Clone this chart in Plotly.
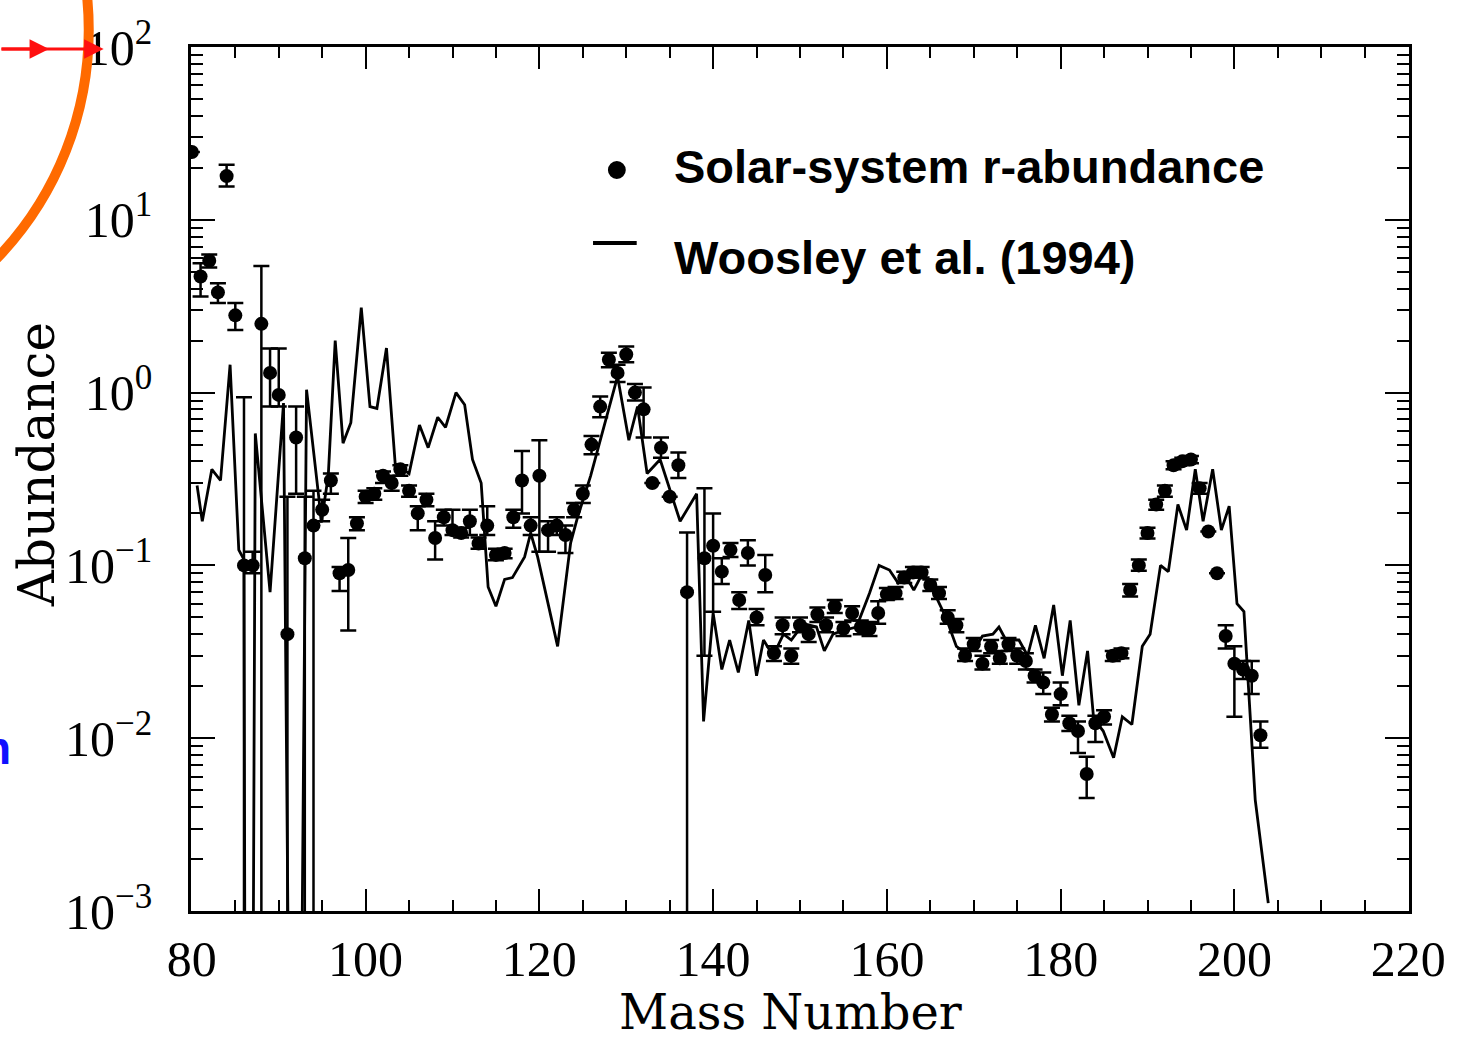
import plotly.graph_objects as go

# ---------------- data ----------------
# Solar-system r-process abundances (mass number, abundance, error-bar top, error-bar bottom)
sol_A = [80, 81, 82, 83, 84, 85, 86, 87, 88, 89, 90, 91, 92, 93, 94, 95, 96, 97, 98, 99,
         100, 101, 102, 103, 104, 105, 106, 107, 108, 109, 110, 111, 112, 113, 114, 115, 116, 117, 118, 119,
         120, 121, 122, 123, 124, 125, 126, 127, 128, 129, 130, 131, 132, 133, 134, 135, 136, 137, 139,
         140, 141, 142, 143, 144, 145, 146, 147, 148, 149, 150, 151, 152, 153, 154, 155, 156, 157, 158, 159,
         160, 161, 162, 163, 164, 165, 166, 167, 168, 169, 170, 171, 172, 173, 174, 175, 176, 177, 178, 179,
         180, 181, 182, 183, 184, 185, 186, 187, 188, 189, 190, 191, 192, 193, 194, 195, 196, 197, 198, 199,
         200, 201, 202, 203]
sol_v = [24.7, 4.7, 5.8, 3.8, 17.9, 2.8, 0.10, 0.10, 2.5, 1.3, 0.97, 0.04, 0.55, 0.11, 0.17, 0.21, 0.31, 0.09, 0.094, 0.175,
         0.25, 0.26, 0.33, 0.30, 0.36, 0.27, 0.20, 0.24, 0.144, 0.19, 0.16, 0.154, 0.18, 0.134, 0.17, 0.115, 0.118, 0.19, 0.31, 0.17,
         0.33, 0.16, 0.17, 0.15, 0.21, 0.26, 0.5, 0.83, 1.55, 1.3, 1.66, 1.0, 0.8, 0.3, 0.48, 0.25, 0.38, 0.07, 0.11,
         0.13, 0.092, 0.123, 0.063, 0.118, 0.05, 0.088, 0.031, 0.045, 0.030, 0.045, 0.04, 0.052, 0.045, 0.058, 0.043, 0.053, 0.044, 0.043, 0.053,
         0.068, 0.069, 0.085, 0.091, 0.091, 0.077, 0.069, 0.05, 0.045, 0.03, 0.035, 0.027, 0.034, 0.029, 0.035, 0.03, 0.028, 0.023, 0.021, 0.0137,
         0.018, 0.0122, 0.011, 0.0062, 0.0122, 0.0133, 0.030, 0.031, 0.072, 0.1, 0.154, 0.225, 0.27, 0.38, 0.40, 0.41, 0.28, 0.157, 0.09, 0.039,
         0.027, 0.025, 0.023, 0.0104]
sol_hi = [24.7, 5.6, 6.3, 4.3, 20.8, 3.3, 0.94, 0.12, 5.4, 1.8, 1.8, 0.25, 0.83, 0.25, 0.27, 0.24, 0.34, 0.098, 0.144, 0.19,
          0.27, 0.28, 0.35, 0.33, 0.38, 0.29, 0.22, 0.26, 0.18, 0.21, 0.21, 0.165, 0.21, 0.145, 0.22, 0.125, 0.125, 0.21, 0.46, 0.19,
          0.53, 0.18, 0.19, 0.17, 0.23, 0.29, 0.56, 0.95, 1.7, 1.45, 1.85, 1.12, 1.07, 0.3, 0.55, 0.25, 0.45, 0.155, 0.28,
          0.2, 0.11, 0.135, 0.07, 0.14, 0.056, 0.115, 0.034, 0.05, 0.033, 0.05, 0.044, 0.057, 0.05, 0.063, 0.047, 0.058, 0.048, 0.047, 0.062,
          0.074, 0.075, 0.092, 0.098, 0.098, 0.083, 0.075, 0.055, 0.049, 0.033, 0.038, 0.03, 0.037, 0.032, 0.038, 0.033, 0.031, 0.025, 0.024, 0.015,
          0.021, 0.0135, 0.0125, 0.0078, 0.0135, 0.0145, 0.032, 0.033, 0.078, 0.108, 0.165, 0.24, 0.29, 0.4, 0.42, 0.43, 0.3, 0.157, 0.09, 0.045,
          0.034, 0.028, 0.028, 0.0125]
sol_lo = [24.7, 3.6, 5.3, 3.3, 15.6, 2.3, 1e-4, 0.09, 1e-4, 0.83, 0.83, 1e-4, 0.26, 1e-4, 1e-4, 0.18, 0.26, 0.071, 0.042, 0.16,
          0.23, 0.24, 0.3, 0.27, 0.33, 0.25, 0.16, 0.22, 0.108, 0.17, 0.15, 0.145, 0.15, 0.125, 0.15, 0.107, 0.11, 0.165, 0.2, 0.15,
          0.12, 0.12, 0.15, 0.118, 0.19, 0.23, 0.44, 0.72, 1.4, 1.15, 1.5, 0.9, 0.55, 0.3, 0.42, 0.25, 0.32, 1e-4, 0.03,
          0.054, 0.078, 0.112, 0.056, 0.1, 0.045, 0.07, 0.028, 0.04, 0.027, 0.041, 0.036, 0.047, 0.041, 0.053, 0.039, 0.048, 0.04, 0.039, 0.046,
          0.063, 0.064, 0.079, 0.085, 0.085, 0.071, 0.064, 0.046, 0.041, 0.028, 0.032, 0.025, 0.031, 0.027, 0.032, 0.027, 0.025, 0.021, 0.018, 0.0125,
          0.0155, 0.011, 0.0082, 0.0045, 0.0095, 0.012, 0.028, 0.029, 0.066, 0.093, 0.143, 0.21, 0.25, 0.36, 0.38, 0.39, 0.26, 0.157, 0.09, 0.033,
          0.0133, 0.022, 0.018, 0.0088]

# Woosley et al. (1994) model curve
model_A = [80.6, 81.2, 82.3, 83.3, 84.4, 85.4, 86.0, 86.3, 86.7, 87.3, 89.0, 90.55, 91.9, 93.2, 94.6, 94.9, 95.7, 96.5, 97.4, 98.3,
           99.5, 100.5, 101.3, 102.4, 103.4, 105.0, 106.2, 107.2, 108.3, 109.2, 110.4, 111.4, 112.3, 113.3, 114.1, 115.0, 116.0, 116.9, 118.3, 119.0,
           119.8, 122.1, 123.6, 124.4, 125.9, 127.4, 129.0, 130.3, 131.3, 132.4, 133.9, 136.2, 138.1, 138.9, 140.0, 141.0, 141.9, 142.9, 144.1, 145.0,
           145.8, 146.9, 148.1, 149.0, 150.4, 151.9, 152.8, 153.8, 154.9, 156.5, 158.0, 159.1, 160.3, 161.3, 162.2, 163.1, 164.1, 165.3, 166.8, 168.0,
           169.1, 170.3, 171.0, 172.2, 172.9, 173.7, 175.2, 176.2, 177.1, 178.1, 179.2, 180.2, 181.1, 182.1, 183.1, 183.8, 184.9, 186.1, 187.1, 188.2,
           189.4, 190.3, 191.5, 192.4, 193.5, 194.5, 195.5, 196.4, 197.5, 198.5, 199.4, 200.3, 201.1, 202.4, 203.9]
model_v = [0.29, 0.18, 0.36, 0.31, 1.45, 0.123, 0.108, 1e-8, 1e-8, 0.58, 0.07, 0.87, 1e-8, 1.04, 0.25, 0.177, 0.33, 2.0, 0.51, 0.67,
           3.1, 0.83, 0.81, 1.81, 0.39, 0.34, 0.65, 0.48, 0.72, 0.63, 1.0, 0.85, 0.41, 0.3, 0.075, 0.058, 0.083, 0.085, 0.112, 0.154,
           0.112, 0.034, 0.135, 0.19, 0.33, 0.63, 1.24, 0.53, 0.83, 0.34, 0.41, 0.18, 0.26, 0.0125, 0.053, 0.025, 0.037, 0.024, 0.048, 0.023,
           0.037, 0.03, 0.04, 0.037, 0.046, 0.044, 0.032, 0.04, 0.042, 0.044, 0.069, 0.1, 0.094, 0.079, 0.086, 0.072, 0.09, 0.072, 0.05, 0.034,
           0.031, 0.034, 0.039, 0.04, 0.044, 0.037, 0.037, 0.03, 0.045, 0.029, 0.059, 0.023, 0.048, 0.0155, 0.032, 0.013, 0.011, 0.0077, 0.0133, 0.012,
           0.034, 0.04, 0.1, 0.092, 0.225, 0.16, 0.36, 0.18, 0.36, 0.16, 0.22, 0.06, 0.054, 0.0044, 0.00111]

x_ticks = [80, 100, 120, 140, 160, 180, 200, 220]
x_ticktext = ["80", "100", "120", "140", "160", "180", "200", "220"]
y_tickvals = [1e-3, 1e-2, 1e-1, 1, 10, 100]
y_ticktext = ["10<sup>−3</sup>", "10<sup>−2</sup>", "10<sup>−1</sup>", "10<sup>0</sup>", "10<sup>1</sup>", "10<sup>2</sup>"]
legend_labels = ["Solar-system r-abundance", "Woosley et al. (1994)"]

# ---------------- layout geometry (pixels) ----------------
W, H = 1458, 1042
L, R, T, B = 191, 1418, 47, 911


def px(x):
    return (x - L) / (R - L)


def py(y):
    return (B - y) / (B - T)


err_plus = [h - v for h, v in zip(sol_hi, sol_v)]
err_minus = [v - l for v, l in zip(sol_v, sol_lo)]

fig = go.Figure()
fig.add_trace(go.Scatter(
    x=model_A, y=model_v, mode="lines",
    line=dict(color="black", width=2.8), showlegend=False, hoverinfo="skip"))
fig.add_trace(go.Scatter(
    x=sol_A, y=sol_v, mode="markers",
    marker=dict(color="black", size=14, symbol="circle"),
    error_y=dict(type="data", symmetric=False, array=err_plus, arrayminus=err_minus,
                 color="black", thickness=2.5, width=8),
    showlegend=False))

minor_y = [m * 10.0 ** e for e in range(-3, 2) for m in range(2, 10)]

fig.update_xaxes(
    range=[79.9, 220.1], tickmode="array", tickvals=x_ticks, ticktext=x_ticktext,
    ticks="inside", ticklen=22, tickwidth=2.2, tickcolor="black",
    showline=True, linewidth=2.6, linecolor="black", mirror="allticks", showgrid=False, zeroline=False,
    tickfont=dict(family="Liberation Serif", size=50, color="black"), ticklabelstandoff=2,
    minor=dict(dtick=5, tick0=80, ticks="inside", ticklen=11, tickwidth=2, tickcolor="black", showgrid=False))
fig.update_yaxes(
    type="log", range=[-3, 2], tickmode="array", tickvals=y_tickvals, ticktext=y_ticktext,
    ticks="inside", ticklen=24, tickwidth=2.2, tickcolor="black",
    showline=True, linewidth=2.6, linecolor="black", mirror="allticks", showgrid=False, zeroline=False,
    tickfont=dict(family="Liberation Serif", size=50, color="black"), ticklabelstandoff=26,
    minor=dict(tickmode="array", tickvals=minor_y, ticks="inside", ticklen=12, tickwidth=2,
               tickcolor="black", showgrid=False))

annotations = [
    dict(x=px(795), y=py(1012), xref="paper", yref="paper", text="Mass Number", showarrow=False,
         font=dict(family="DejaVu Serif", size=48, color="black"), xanchor="center", yanchor="middle"),
    dict(x=px(36), y=py(465), xref="paper", yref="paper", text="Abundance", showarrow=False, textangle=-90,
         font=dict(family="DejaVu Serif", size=50, color="black"), xanchor="center", yanchor="middle"),
    dict(x=px(676), y=py(166), xref="paper", yref="paper", text=legend_labels[0], showarrow=False,
         font=dict(family="Liberation Sans", size=47, color="black", weight="bold"), xanchor="left", yanchor="middle"),
    dict(x=px(676), y=py(257), xref="paper", yref="paper", text=legend_labels[1], showarrow=False,
         font=dict(family="Liberation Sans", size=47, color="black", weight="bold"), xanchor="left", yanchor="middle"),
    # red arrow (slide decoration at the top-left)
    dict(x=px(103), y=py(49), xref="paper", yref="paper", ax=-106, ay=0, axref="pixel", ayref="pixel",
         text="", showarrow=True, arrowhead=2, arrowsize=1.3, arrowwidth=3, arrowcolor="#ff1010"),
    dict(x=px(48), y=py(49), xref="paper", yref="paper", ax=-50, ay=0, axref="pixel", ayref="pixel",
         text="", showarrow=True, arrowhead=2, arrowsize=1.3, arrowwidth=3, arrowcolor="#ff1010"),
    dict(x=px(12), y=py(748), xref="paper", yref="paper", text="n", showarrow=False,
         font=dict(family="Liberation Sans", size=46, color="#1010ff", weight="bold"), xanchor="right", yanchor="middle"),
]

shapes = [
    # legend symbols
    dict(type="circle", xref="paper", yref="paper", x0=px(611), x1=px(629), y0=py(179), y1=py(161),
         fillcolor="black", line=dict(color="black", width=0)),
    dict(type="line", xref="paper", yref="paper", x0=px(596), x1=px(640), y0=py(243), y1=py(243),
         line=dict(color="black", width=4)),
    # orange arc (slide decoration)
    dict(type="circle", xref="paper", yref="paper", x0=px(-240 - 328), x1=px(-240 + 328),
         y0=py(30 + 328), y1=py(30 - 328), line=dict(color="#ff6a00", width=10), fillcolor="rgba(0,0,0,0)",
         layer="above"),
]

fig.update_layout(
    width=W, height=H, margin=dict(l=L, r=W - R, t=T, b=H - B),
    paper_bgcolor="white", plot_bgcolor="white",
    annotations=annotations, shapes=shapes, showlegend=False)

fig.write_html("out.html")
